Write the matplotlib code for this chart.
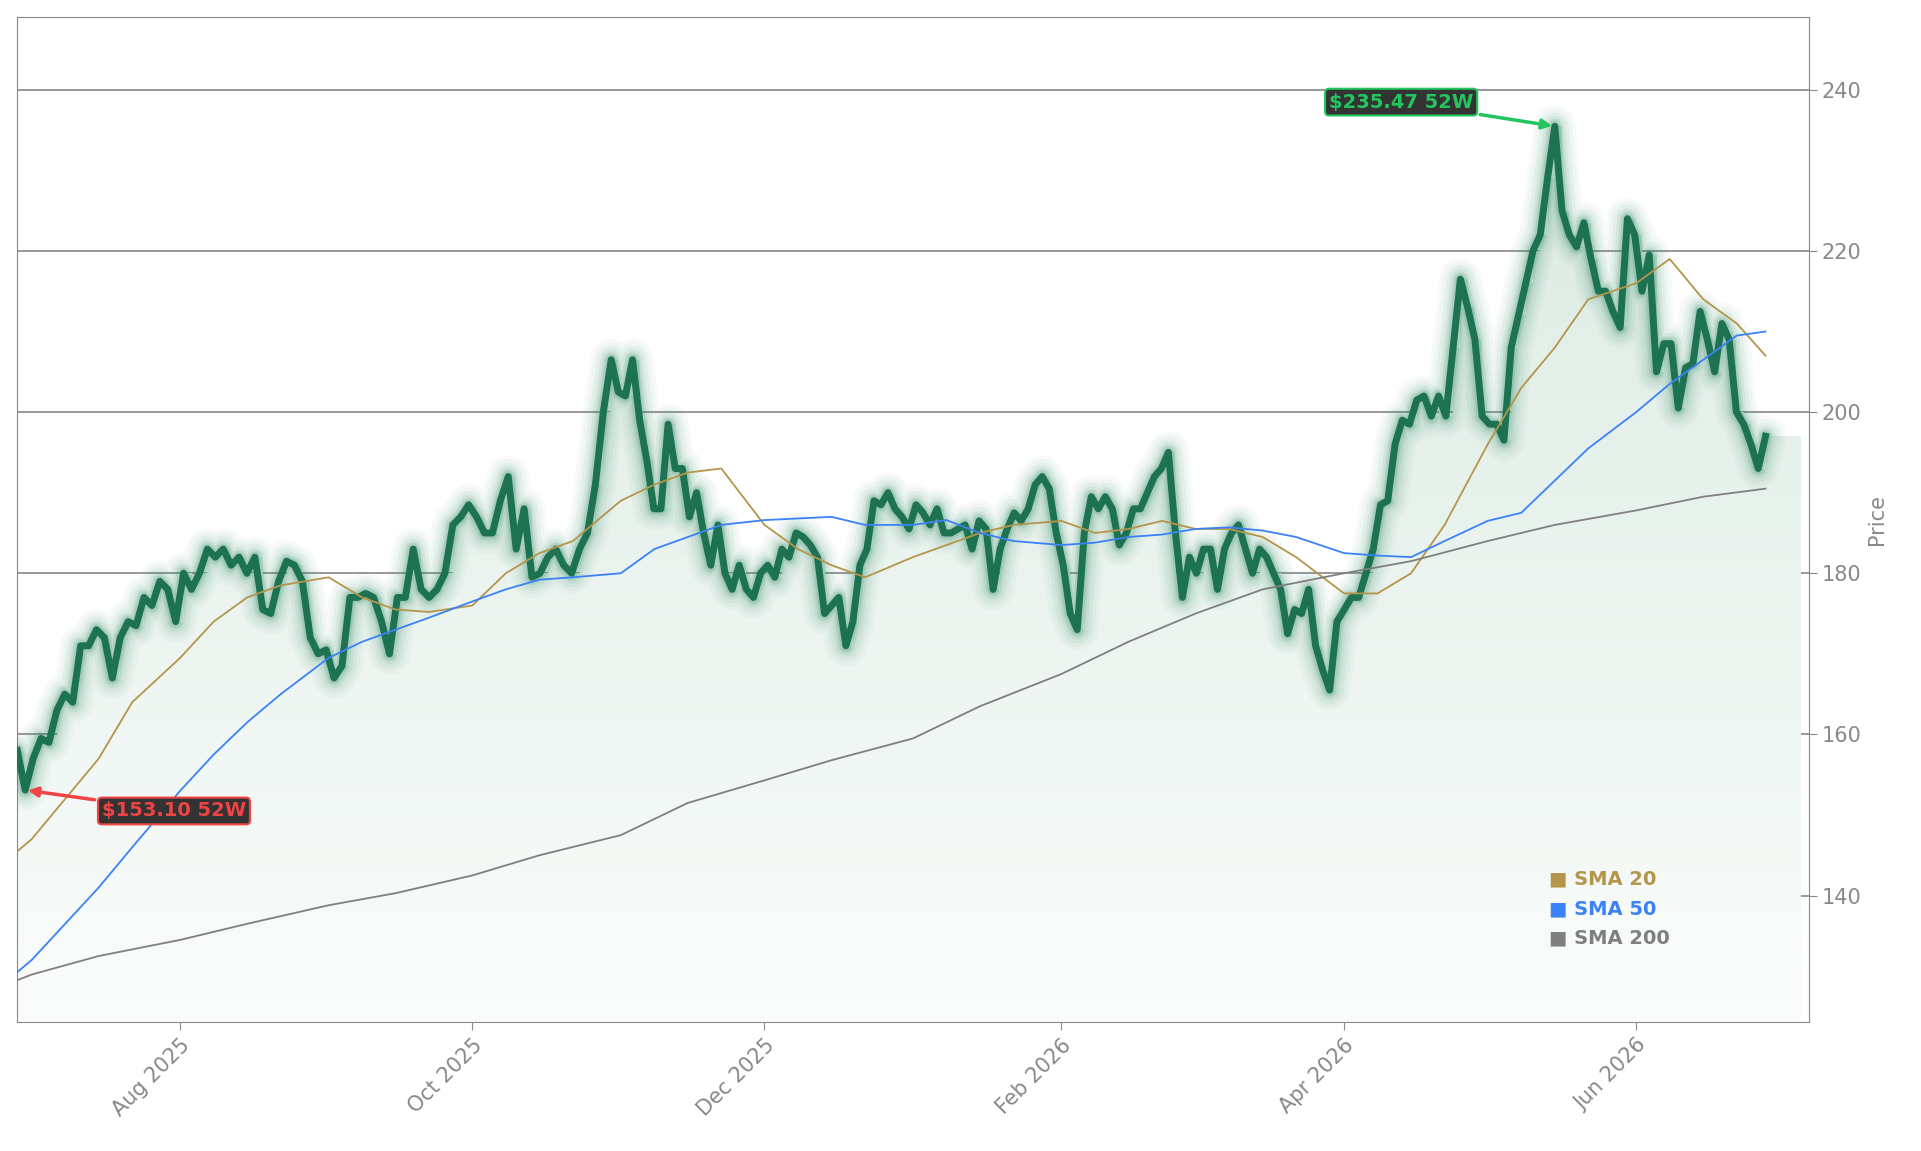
import numpy as np
import pandas as pd
import matplotlib
matplotlib.use("Agg")
import matplotlib.pyplot as plt
import matplotlib.dates as mdates
from matplotlib.colors import LinearSegmentedColormap

prices = [158,153.1,157,159.5,159,163,165,164,171,171,173,172,167,172,174,173.5,177,176,179,178,174,180,178,180,183,182,183,181,182,180,182,175.5,
175,179,181.5,181,179,172,170,170.5,167,168.5,177,177,177.5,177,174,170,177,177,183,178,177,178,180,186,187,188.5,187,185,185,189,192,183,188,179.5,180,182,183,181,180,183,185,191,200,206.5,202.5,202,206.5,199,194,188,188,198.5,193,193,187,190,185,181,186,180,178,181,178,177,180,181,179.5,183,182,185,184.5,183.5,182,175,176,177,171,174,181,183,189,188.5,190,188,187,185.5,188.5,187.5,186,188,185,185,185.5,186,183,186.5,185.5,178,183,185.5,187.5,186.5,188,191,192,190.5,185,181,175,173,185,189.5,188,189.5,188,183.5,185,188,188,190,192,193,195,185,177,182,180,183,183,178,183,185,186,183,180,183,182,180,178,172.5,175.5,175,178,171,168,165.5,174,175.5,177,177,180,183,188.5,189,196,199,198.5,201.5,202,199.5,202,199.5,208,216.5,213,209,199.5,198.5,198.5,196.5,208,212,216,220,222,229,235.47,225,222,220.5,223.5,219,215,215,212.5,210.5,224,222,215,219.5,205,208.5,208.5,200.5,205.5,206,212.5,209,205,211,209,200,198.5,196,193,197]
# anchor dates for known turning points of the price series (in order)
anchor_vals = [158, 206.5, 171, 165.5, 235.47]
anchor_dates = ["2025-06-28", "2025-10-30", "2025-12-18", "2026-03-29", "2026-05-15"]
end_date = "2026-06-28"

sma_dates = pd.to_datetime(["2025-06-28","2025-07-01","2025-07-08","2025-07-15","2025-07-22","2025-08-01","2025-08-08","2025-08-15","2025-08-22","2025-09-01",
    "2025-09-08","2025-09-15","2025-09-22","2025-10-01","2025-10-08","2025-10-15","2025-10-22","2025-11-01","2025-11-08","2025-11-15",
    "2025-11-22","2025-12-01","2025-12-08","2025-12-15","2025-12-22","2026-01-01","2026-01-08","2026-01-15","2026-01-22","2026-02-01",
    "2026-02-08","2026-02-15","2026-02-22","2026-03-01","2026-03-08","2026-03-15","2026-03-22","2026-04-01","2026-04-08","2026-04-15",
    "2026-04-22","2026-05-01","2026-05-08","2026-05-15","2026-05-22","2026-06-01","2026-06-08","2026-06-15","2026-06-22","2026-06-28"])
sma20 = [145.5,147,152,157,164,169.5,174,177,178.5,179.5,177,175.5,175.2,176,180,182.5,184,189,191,192.5,
         193,186,183,181,179.5,182,183.5,185,186,186.5,185,185.5,186.5,185.5,185.5,184.5,182,177.5,177.5,180,
         186,196,203,208,214,216,219,214,211,207]
sma50 = [130.5,132,136.5,141,146,153,157.5,161.5,165,169.5,171.5,173,174.5,176.5,178,179.2,179.5,180,183,184.5,
         186,186.6,186.8,187,186,186,186.6,185,184,183.5,183.8,184.5,184.8,185.5,185.7,185.3,184.5,182.5,182.2,182,
         184,186.5,187.5,191.5,195.5,200,203.5,206.5,209.5,210]
sma200_dates = pd.to_datetime(["2025-06-28","2025-07-01","2025-07-15","2025-08-01","2025-08-15","2025-09-01","2025-09-15","2025-10-01","2025-10-15","2025-11-01","2025-11-15","2025-12-01","2025-12-15","2026-01-01","2026-01-15","2026-02-01","2026-02-15","2026-03-01","2026-03-15","2026-04-01","2026-04-15","2026-05-01","2026-05-15","2026-06-01","2026-06-15","2026-06-28"])
sma200 = [129.5,130.2,132.5,134.5,136.5,138.8,140.3,142.5,145,147.5,151.5,154.3,156.8,159.5,163.5,167.5,171.5,175,178,180,181.5,184,186,187.8,189.5,190.5]

a_idx = []
start = 0
for v in anchor_vals:
    i = prices.index(v, start)
    a_idx.append(i)
    start = i + 1
a_idx.append(len(prices) - 1)
a_num = mdates.date2num(pd.to_datetime(anchor_dates + [end_date]))
xs = np.interp(np.arange(len(prices)), a_idx, a_num)

fig = plt.figure(figsize=(19.21, 11.51), dpi=100)
ax = fig.add_axes([0.009, 0.112, 0.9325, 0.873])
ymin, ymax = 124.3, 249
ax.set_ylim(ymin, ymax)
ax.set_xlim(xs[0], xs[-1] + 9)

grad = np.linspace(0, 1, 256).reshape(-1, 1)
cmap = LinearSegmentedColormap.from_list("g", [(0.98, 0.99, 0.985), (0.86, 0.92, 0.89)])
ext_x = np.append(xs, xs[-1] + 7.5)
ext_y = np.append(prices, prices[-1] - 0.5)
im = ax.imshow(grad, extent=[xs[0], ext_x[-1], ymin, max(prices)], origin="lower", aspect="auto", cmap=cmap, zorder=1)
poly = ax.fill_between(ext_x, ext_y, ymin, step="post", color="none")
im.set_clip_path(poly.get_paths()[0], transform=ax.transData)

ax.grid(axis="y", color="#888888", linewidth=1.2, zorder=0)
ax.set_axisbelow(True)

for w, a in [(30, 0.035), (25, 0.045), (20, 0.06), (15, 0.08), (11, 0.12), (8, 0.16)]:
    ax.plot(xs, prices, color="#2e8b63", linewidth=w, alpha=a, solid_capstyle="round", solid_joinstyle="round", zorder=3)
ax.plot(xs, prices, color="#1d7252", linewidth=5, solid_joinstyle="round", zorder=4)

ax.plot(sma_dates, sma20, color="#b5954a", linewidth=1.3, zorder=5)
ax.plot(sma_dates, sma50, color="#3b82f6", linewidth=1.3, zorder=5)
ax.plot(sma200_dates, sma200, color="#7f7f7f", linewidth=1.3, zorder=5)

imax = int(np.argmax(prices)); imin = int(np.argmin(prices))
ax.annotate(f"${prices[imax]:.2f} 52W", xy=(xs[imax], prices[imax]), xytext=(xs[imax] - 17, prices[imax] + 3),
            color="#22c55e", fontsize=14, fontweight="bold", ha="right", va="center",
            bbox=dict(boxstyle="round,pad=0.2", fc="#333333", ec="#22c55e", lw=1.5),
            arrowprops=dict(arrowstyle="-|>", color="#22c55e", lw=2.5), zorder=10)
ax.annotate(f"${prices[imin]:.2f} 52W", xy=(xs[imin], prices[imin]), xytext=(xs[imin] + 16, prices[imin] - 2.6),
            color="#ef4444", fontsize=14, fontweight="bold", ha="left", va="center",
            bbox=dict(boxstyle="round,pad=0.2", fc="#333333", ec="#ef4444", lw=1.5),
            arrowprops=dict(arrowstyle="-|>", color="#ef4444", lw=2.5), zorder=10)

for i, (lab, c) in enumerate([("SMA 20", "#b5954a"), ("SMA 50", "#3b82f6"), ("SMA 200", "#7f7f7f")]):
    ax.text(0.855, 0.142 - i * 0.029, "■ " + lab, transform=ax.transAxes, color=c,
            fontsize=14, fontweight="bold", va="center", ha="left")

ax.yaxis.tick_right()
ax.yaxis.set_label_position("right")
ax.set_ylabel("Price", color="#888888", fontsize=15)
ax.set_yticks([140, 160, 180, 200, 220, 240])
ax.xaxis.set_major_locator(mdates.MonthLocator(bymonth=[2, 4, 6, 8, 10, 12]))
ax.xaxis.set_major_formatter(mdates.DateFormatter("%b %Y"))
ax.tick_params(colors="#888888", labelsize=15, length=6)
for lab in ax.get_xticklabels():
    lab.set_rotation(45); lab.set_ha("right"); lab.set_rotation_mode("anchor")
for s in ax.spines.values():
    s.set_color("#888888")

fig.savefig("out.png", dpi=100)
